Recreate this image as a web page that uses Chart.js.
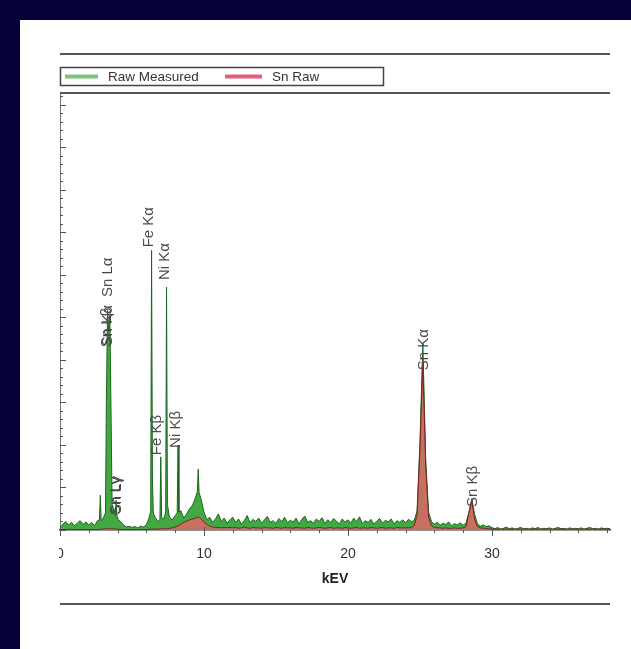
<!DOCTYPE html>
<html>
<head>
<meta charset="utf-8">
<script src="https://cdn.jsdelivr.net/npm/chart.js@4.4.1/dist/chart.umd.min.js"></script>
<style>
  html, body { margin:0; padding:0; }
  body { width:631px; height:649px; background:#03003a; position:relative; overflow:hidden; }
  #panel { position:absolute; left:20px; top:20px; width:611px; height:629px; background:#fff; }
  canvas { display:block; }
</style>
</head>
<body>
<div id="panel"><canvas id="spectrum" width="611" height="629"></canvas></div>
<script>
// energy grid (keV), denser around the sharp lines
const energyKeV = [
  0.0,0.2,0.4,0.6,0.8,1.0,1.2,1.4,1.6,1.8,
  2.0,2.2,2.4,2.6,2.74,2.8,2.86,3.0,3.16,3.22,3.3,3.38,3.46,3.54,3.62,3.8,3.86,3.9,3.96,
  4.0,4.2,4.4,4.6,4.8,5.0,5.2,5.4,5.6,5.8,
  6.0,6.2,6.3,6.36,6.42,6.48,6.6,6.8,6.94,7.0,7.06,7.2,7.34,7.4,7.46,7.6,7.8,
  8.0,8.14,8.2,8.26,8.4,8.6,8.8,9.0,9.2,9.4,9.54,9.6,9.66,9.8,
  10.0,10.2,10.4,10.6,10.8,11.0,11.2,11.4,11.6,11.8,
  12.0,12.2,12.4,12.6,12.8,13.0,13.2,13.4,13.6,13.8,
  14.0,14.2,14.4,14.6,14.8,15.0,15.2,15.4,15.6,15.8,
  16.0,16.2,16.4,16.6,16.8,17.0,17.2,17.4,17.6,17.8,
  18.0,18.2,18.4,18.6,18.8,19.0,19.2,19.4,19.6,19.8,
  20.0,20.2,20.4,20.6,20.8,21.0,21.2,21.4,21.6,21.8,
  22.0,22.2,22.4,22.6,22.8,23.0,23.2,23.4,23.6,23.8,
  24.0,24.2,24.4,24.6,24.8,25.0,25.2,25.4,25.6,25.8,
  26.0,26.2,26.4,26.6,26.8,27.0,27.2,27.4,27.6,27.8,
  28.0,28.2,28.4,28.6,28.8,29.0,29.2,29.4,29.6,29.8,
  30.0,30.2,30.4,30.6,30.8,31.0,31.2,31.4,31.6,31.8,
  32.0,32.2,32.4,32.6,32.8,33.0,33.2,33.4,33.6,33.8,
  34.0,34.2,34.4,34.6,34.8,35.0,35.2,35.4,35.6,35.8,
  36.0,36.2,36.4,36.6,36.8,37.0,37.2,37.4,37.6,37.8,
  38.0,38.2
];

// counts
const rawMeasured = [
  4,14,20,12,18,10,16,22,13,19,
  12,18,10,22,24,82,22,28,40,300,517,470,505,290,60,38,34,70,30,
  26,20,12,7,9,6,8,5,9,7,
  12,30,45,658,120,40,30,20,24,172,30,26,40,571,60,30,24,
  34,40,200,42,45,28,38,50,58,75,90,143,88,72,
  42,24,30,18,26,38,20,28,16,24,
  30,18,26,14,22,34,17,25,20,28,
  16,24,32,18,22,15,27,20,30,17,
  23,19,28,14,25,33,18,22,16,26,
  20,29,15,24,18,27,21,14,26,19,
  24,16,28,20,31,15,22,18,25,14,
  21,27,16,23,19,26,14,22,18,24,
  17,25,20,22,45,205,440,165,42,20,
  14,18,11,16,13,19,10,15,12,17,
  11,16,42,74,36,14,9,12,8,10,
  5,3,6,2,4,7,3,5,2,4,
  6,3,4,2,5,3,6,2,4,3,
  5,2,4,6,3,4,2,5,3,4,
  3,5,2,4,6,3,4,2,5,3,
  4,3
];

const snRaw = [
  0,1,1,1,1,1,1,1,1,1,
  1,1,1,1,1,2,2,2,3,3,3,3,3,3,3,2,2,2,2,
  2,1,1,1,1,1,1,1,1,1,
  1,2,2,2,2,2,2,2,3,3,3,3,3,3,3,4,5,
  7,9,10,11,14,18,21,24,26,28,30,31,30,26,
  19,13,9,7,6,6,5,6,5,6,
  5,6,4,5,7,5,4,6,5,5,
  4,6,5,5,4,6,5,4,6,5,
  5,4,6,5,5,4,6,5,4,5,
  6,5,4,5,6,4,5,5,4,6,
  5,4,5,6,4,5,5,4,6,5,
  4,5,6,4,5,5,4,6,5,5,
  5,5,6,10,35,190,395,150,30,10,
  6,5,5,4,5,4,4,5,4,4,
  5,8,40,68,25,8,5,4,3,3,
  2,2,2,2,2,2,2,2,2,2,
  2,2,2,2,2,2,2,2,2,2,
  2,2,2,2,2,2,2,2,2,2,
  2,2,2,2,2,2,2,2,2,2,
  2,2
];

// peak markers
const peakNames    = ['Sn Lα','Sn Lβ','Sn Kα','Sn Lγ','Sn Lγ','Fe Kα','Fe Kβ','Ni Kα','Ni Kβ','Sn Kα','Sn Kβ'];
const peakEnergies = [3.30, 3.28, 3.34, 3.90, 3.94, 6.20, 6.72, 7.30, 8.05, 25.25, 28.70];
const peakLabelAt  = [548, 430, 432, 35, 37, 665, 176, 588, 193, 376, 54];

const xTicks = [0, 10, 20, 30];

if (energyKeV.length !== rawMeasured.length || energyKeV.length !== snRaw.length)
  console.error('length mismatch', energyKeV.length, rawMeasured.length, snRaw.length);

const pts = (ys)=> ys.map((y,i)=>({x: energyKeV[i], y}));

const decor = {
  id: 'decor',
  afterDraw(chart){
    const {ctx, chartArea:a, scales:{x, y}} = chart;
    ctx.save();
    // frame lines
    ctx.strokeStyle = '#555';
    ctx.lineWidth = 2;
    [34, 73, 584].forEach(yy=>{
      ctx.beginPath(); ctx.moveTo(a.left, yy); ctx.lineTo(a.right, yy); ctx.stroke();
    });
    // legend box
    ctx.lineWidth = 1.5;
    ctx.strokeStyle = '#444';
    ctx.strokeRect(40.5, 47.5, 323, 18);
    ctx.lineWidth = 4;
    ctx.strokeStyle = '#7cc47c';
    ctx.beginPath(); ctx.moveTo(45, 56.5); ctx.lineTo(78, 56.5); ctx.stroke();
    ctx.strokeStyle = '#e25f80';
    ctx.beginPath(); ctx.moveTo(205, 56.5); ctx.lineTo(242, 56.5); ctx.stroke();
    ctx.fillStyle = '#333';
    ctx.font = '13.5px "Liberation Sans", Arial, sans-serif';
    ctx.textBaseline = 'middle';
    ctx.textAlign = 'left';
    ctx.fillText('Raw Measured', 88, 57);
    ctx.fillText('Sn Raw', 252, 57);

    // y ticks (inward)
    ctx.strokeStyle = '#555';
    ctx.lineWidth = 1;
    for (let v = 0; v <= y.max; v += 20){
      const py = Math.round(y.getPixelForValue(v)) + 0.5;
      const len = v % 100 === 0 ? 6 : 3;
      ctx.beginPath(); ctx.moveTo(a.left, py); ctx.lineTo(a.left + len, py); ctx.stroke();
    }
    // x ticks
    for (let e = 0; e <= x.max; e += 2){
      const px = Math.round(x.getPixelForValue(e)) + 0.5;
      ctx.beginPath();
      if (e % 10 === 0){ ctx.moveTo(px, a.bottom - 3); ctx.lineTo(px, a.bottom + 6); }
      else { ctx.moveTo(px, a.bottom); ctx.lineTo(px, a.bottom + 3); }
      ctx.stroke();
    }

    // peak labels
    ctx.fillStyle = '#4a4a4a';
    ctx.font = '15px "Liberation Sans", Arial, sans-serif';
    ctx.textAlign = 'left';
    ctx.textBaseline = 'middle';
    peakNames.forEach((n,i)=>{
      const px = x.getPixelForValue(peakEnergies[i]);
      const py = y.getPixelForValue(peakLabelAt[i]);
      ctx.save();
      ctx.translate(px, py);
      ctx.rotate(-Math.PI/2);
      ctx.fillText(n, 0, 0);
      ctx.restore();
    });

    // left half of the "0" label is hidden in the original
    ctx.fillStyle = '#fff';
    ctx.fillRect(0, a.bottom + 8, a.left - 1, 30);
    ctx.restore();
  }
};

new Chart(document.getElementById('spectrum'), {
  type: 'line',
  data: {
    datasets: [
      {
        label: 'Raw Measured',
        data: pts(rawMeasured),
        borderColor: '#1b661b',
        backgroundColor: 'rgba(46,160,46,0.9)',
        borderWidth: 1,
        fill: 'origin',
        pointRadius: 0,
        order: 2
      },
      {
        label: 'Sn Raw',
        data: pts(snRaw),
        borderColor: '#7a2424',
        backgroundColor: 'rgba(236,96,108,0.78)',
        borderWidth: 1,
        fill: 'origin',
        pointRadius: 0,
        order: 1
      }
    ]
  },
  options: {
    responsive: false,
    animation: false,
    devicePixelRatio: 1,
    layout: { padding: { top: 73, right: 21, left: 0, bottom: 0 } },
    plugins: { legend: { display: false }, tooltip: { enabled: false } },
    scales: {
      x: {
        type: 'linear',
        min: 0, max: 38.2,
        afterFit: (s)=>{ s.height = 119; },
        grid: { display: true, drawOnChartArea: false, drawTicks: false },
        border: { color: '#333', width: 1.5 },
        ticks: {
          stepSize: 10,
          includeBounds: false,
          maxRotation: 0,
          padding: 16,
          color: '#333',
          font: { family: '"Liberation Sans", Arial, sans-serif', size: 14 },
          callback: (v)=> xTicks.includes(v) ? String(v) : ''
        },
        title: {
          display: true,
          text: 'kEV',
          color: '#222',
          font: { family: '"Liberation Sans", Arial, sans-serif', size: 14, weight: 'bold' },
          padding: { top: 0, bottom: 61 }
        }
      },
      y: {
        min: 0, max: 1028,
        afterFit: (s)=>{ s.width = 40; },
        grid: { display: true, drawOnChartArea: false, drawTicks: false },
        border: { color: '#777', width: 1 },
        ticks: { display: false, stepSize: 100 }
      }
    }
  },
  plugins: [decor]
});
</script>
</body>
</html>
